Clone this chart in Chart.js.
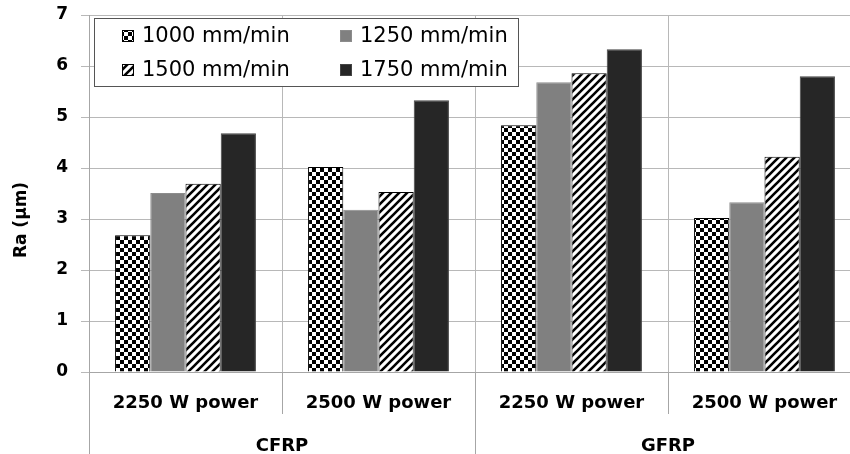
<!DOCTYPE html>
<html>
<head>
<meta charset="utf-8">
<script src="https://cdn.jsdelivr.net/npm/chart.js@4"></script>
<style>
  html, body { margin: 0; padding: 0; overflow: hidden; background: #fff; }
  #wrap { width: 862px; height: 454px; }
</style>
</head>
<body>
<div id="wrap"><canvas id="ra" width="862" height="454"></canvas></div>
<script>
// categories and groups
const powers = ['2250 W power', '2500 W power', '2250 W power', '2500 W power'];
const materials = ['CFRP', 'GFRP'];
const speeds = ['1000 mm/min', '1250 mm/min', '1500 mm/min', '1750 mm/min'];

// Ra values (um) per feed speed
const ra1000 = [2.68, 4.02, 4.84, 3.02];
const ra1250 = [3.51, 3.18, 5.68, 3.33];
const ra1500 = [3.69, 3.53, 5.86, 4.22];
const ra1750 = [4.68, 5.33, 6.33, 5.80];

const yTicks = [0, 1, 2, 3, 4, 5, 6, 7];

// fill patterns
function checker() {
	const c = document.createElement('canvas');
	c.width = 8; c.height = 8;
	const g = c.getContext('2d');
	g.fillStyle = '#fff';
	g.fillRect(0, 0, 8, 8);
	g.fillStyle = '#000';
	g.fillRect(0, 0, 4, 4);
	g.fillRect(4, 4, 4, 4);
	return g.createPattern(c, 'repeat');
}

function hatch() {
	const c = document.createElement('canvas');
	c.width = 8; c.height = 8;
	const g = c.getContext('2d');
	g.fillStyle = '#fff';
	g.fillRect(0, 0, 8, 8);
	g.strokeStyle = '#000';
	g.lineWidth = 2.6;
	g.beginPath();
	g.moveTo(-1, 9); g.lineTo(9, -1);
	g.moveTo(-5, 5); g.lineTo(5, -5);
	g.moveTo(3, 13); g.lineTo(13, 3);
	g.stroke();
	return g.createPattern(c, 'repeat');
}

const fills = [checker(), '#808080', hatch(), '#262626'];
const borders = ['#000', '#8c8c8c', '#000', '#444'];
const series = [ra1000, ra1250, ra1500, ra1750];

const boldFont = 'DejaVu Sans';

// legend box, y title, group labels and lines under the axis
const extras = {
	id: 'extras',
	afterDraw(chart) {
		const ctx = chart.ctx;
		const x = chart.scales.x;
		const area = chart.chartArea;
		const w = (x.right - x.left) / powers.length;
		ctx.save();

		// separators below the axis
		ctx.strokeStyle = '#a6a6a6';
		ctx.lineWidth = 1;
		ctx.beginPath();
		ctx.moveTo(Math.round(x.left) + 0.5, area.bottom);
		ctx.lineTo(Math.round(x.left) + 0.5, chart.height);
		for (let k = 1; k < powers.length; k++) {
			const px = Math.round(x.left + k * w) + 0.5;
			ctx.moveTo(px, area.bottom);
			ctx.lineTo(px, k % 2 == 0 ? chart.height : 414);
		}
		ctx.stroke();

		// group labels
		ctx.fillStyle = '#000';
		ctx.font = 'bold 18px ' + boldFont;
		ctx.textAlign = 'center';
		ctx.textBaseline = 'middle';
		materials.forEach((m, i) => {
			ctx.fillText(m, x.left + (2 * i + 1) * w, 446);
		});

		// y title
		ctx.save();
		ctx.translate(22, 220);
		ctx.rotate(-Math.PI / 2);
		ctx.font = 'bold 17px ' + boldFont;
		ctx.fillText('Ra (\u00b5m)', 0, 0);
		ctx.restore();

		// legend
		ctx.fillStyle = '#fff';
		ctx.fillRect(94, 18, 424, 68);
		ctx.strokeStyle = '#555';
		ctx.lineWidth = 1;
		ctx.strokeRect(94.5, 18.5, 424, 68);
		ctx.font = '21px DejaVu Sans';
		ctx.textAlign = 'left';
		const pos = [[122, 36], [340, 36], [122, 70], [340, 70]];
		chart.data.datasets.forEach((ds, i) => {
			const [lx, ly] = pos[i];
			ctx.fillStyle = ds.backgroundColor;
			ctx.fillRect(lx, ly - 6, 12, 12);
			ctx.strokeStyle = ds.borderColor;
			ctx.strokeRect(lx + 0.5, ly - 5.5, 11, 11);
			ctx.fillStyle = '#000';
			ctx.fillText(ds.label, lx + 20, ly + 1);
		});
		ctx.restore();
	}
};

var ctx = document.getElementById('ra').getContext('2d');
var myChart = new Chart(ctx, {
	type: 'bar',
	data: {
		labels: powers,
		datasets: speeds.map((s, i) => ({
			label: s,
			data: series[i],
			backgroundColor: fills[i],
			borderColor: borders[i],
			borderWidth: 1,
			categoryPercentage: 0.73,
			barPercentage: 1.0
		}))
	},
	options: {
		responsive: false,
		animation: false,
		layout: { padding: { top: 15, right: 1, left: 0, bottom: 0 } },
		plugins: {
			legend: { display: false },
			tooltip: { enabled: false }
		},
		scales: {
			x: {
				afterFit: (s) => { s.height = 82; s.paddingLeft = 0; s.paddingRight = 0; },
				grid: { offset: true, color: '#b8b8b8', drawTicks: false },
				border: { color: '#a6a6a6' },
				ticks: {
					color: '#000',
					padding: 21,
					maxRotation: 0,
					autoSkip: false,
					font: { family: boldFont, size: 18, weight: 'bold' }
				}
			},
			y: {
				min: 0,
				max: 7,
				afterFit: (s) => { s.width = 89; s.paddingTop = 0; s.paddingBottom = 0; },
				afterBuildTicks: (s) => { s.ticks = yTicks.map(v => ({ value: v })); },
				grid: { color: '#b8b8b8', tickLength: 8 },
				border: { color: '#a6a6a6' },
				ticks: {
					color: '#000',
					padding: 13,
					font: { family: boldFont, size: 17, weight: 'bold' }
				}
			}
		}
	},
	plugins: [extras]
});
</script>
</body>
</html>
